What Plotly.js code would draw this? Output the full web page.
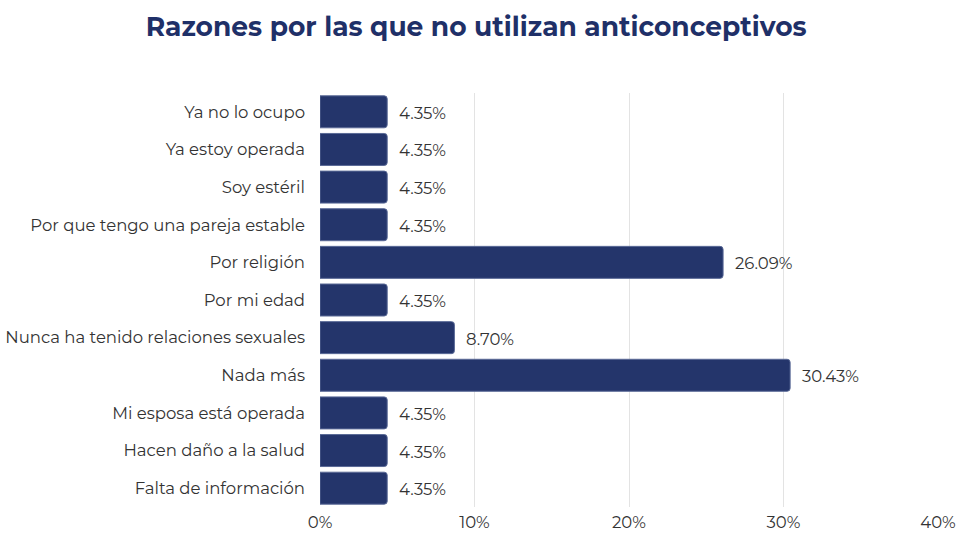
<!DOCTYPE html>
<html>
<head>
<meta charset="utf-8">
<script src="https://cdn.plot.ly/plotly-3.0.1.min.js"></script>
<style>html,body{margin:0;padding:0;background:#fff;}#chart{width:960px;height:540px;}</style>
</head>
<body>
<div id="chart"></div>
<script>
var categories = [
  "Ya no lo ocupo",
  "Ya estoy operada",
  "Soy estéril",
  "Por que tengo una pareja estable",
  "Por religión",
  "Por mi edad",
  "Nunca ha tenido relaciones sexuales",
  "Nada más",
  "Mi esposa está operada",
  "Hacen daño a la salud",
  "Falta de información"
];
var percentages = [4.35, 4.35, 4.35, 4.35, 26.09, 4.35, 8.70, 30.43, 4.35, 4.35, 4.35];
var tickValues = [0, 10, 20, 30, 40];
var tickLabels = ["0%", "10%", "20%", "30%", "40%"];

var FONT = "Montserrat, 'DejaVu Sans', 'Open Sans', sans-serif";

var trace = {
  type: "bar",
  orientation: "h",
  x: percentages,
  y: categories,
  width: 0.85,
  marker: {color: "#24356b", line: {color: "#5a6a96", width: 1}, cornerradius: 3},
  hoverinfo: "none"
};

var annotations = percentages.map(function(v, i){
  return {
    x: v, y: categories[i], xref: "x", yref: "y",
    text: v.toFixed(2) + "%",
    showarrow: false, xanchor: "left", yanchor: "middle",
    xshift: 10, yshift: -1,
    font: {family: FONT, size: 16.5, color: "#333333"}
  };
});

var layout = {
  width: 960,
  height: 540,
  margin: {l: 320, r: 22, t: 93, b: 33},
  paper_bgcolor: "#ffffff",
  plot_bgcolor: "#ffffff",
  showlegend: false,
  title: {
    text: "<b>Razones por las que no utilizan anticonceptivos</b>",
    font: {family: FONT, size: 26.5, color: "#1f3068"},
    x: 0.496, xanchor: "center", y: 0.95, yanchor: "middle"
  },
  annotations: annotations,
  xaxis: {
    range: [0, 40],
    tickvals: tickValues,
    ticktext: tickLabels,
    showgrid: true,
    gridcolor: "#e3e3e3",
    gridwidth: 1,
    zeroline: false,
    showline: false,
    ticks: "",
    ticklabelstandoff: 3,
    tickfont: {family: FONT, size: 16.5, color: "#333333"}
  },
  yaxis: {
    autorange: "reversed",
    showgrid: false,
    zeroline: false,
    showline: false,
    ticks: "",
    ticklabelstandoff: 14,
    tickfont: {family: FONT, size: 16.5, color: "#333333"}
  }
};

Plotly.newPlot("chart", [trace], layout, {displayModeBar: false, staticPlot: true});
</script>
</body>
</html>
